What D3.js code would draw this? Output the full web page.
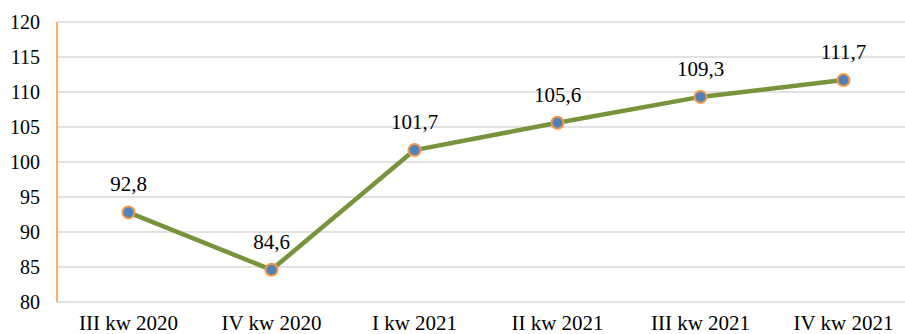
<!DOCTYPE html>
<html>
<head>
<meta charset="utf-8">
<script src="https://cdn.jsdelivr.net/npm/d3@7"></script>
<style>
  html, body { margin: 0; padding: 0; background: #fff; }
  svg { display: block; }
  svg text { font-family: "Liberation Serif" !important; fill: #000; }
</style>
</head>
<body>
<svg id="chart" width="905" height="334"></svg>
<script>
// Quarterly index values
const categories = ["III kw 2020", "IV kw 2020", "I kw 2021", "II kw 2021", "III kw 2021", "IV kw 2021"];
const values = [92.8, 84.6, 101.7, 105.6, 109.3, 111.7];
const yTicks = [80, 85, 90, 95, 100, 105, 110, 115, 120];

const svg = d3.select("#chart");
const plot = { left: 57, right: 915, top: 22, bottom: 302 };
const FONT = "Liberation Serif";

const x = d3.scaleBand().domain(categories).range([plot.left, plot.right]);
const y = d3.scaleLinear().domain([80, 120]).range([plot.bottom, plot.top]);
const fmt = v => d3.format(".1f")(v).replace(".", ",");

// Horizontal gridlines
svg.append("g").selectAll("line").data(yTicks).join("line")
  .attr("x1", plot.left).attr("x2", plot.right)
  .attr("y1", d => y(d)).attr("y2", d => y(d))
  .attr("stroke", "#d9d9d9").attr("stroke-width", 1.3);

// Y axis labels
const yAxis = svg.append("g").attr("transform", `translate(${plot.left},0)`)
  .call(d3.axisLeft(y).tickValues(yTicks).tickSize(0).tickPadding(17));
yAxis.attr("font-family", FONT).attr("font-size", 20);
yAxis.select(".domain").remove();
yAxis.selectAll("text").attr("fill", "#000");

// Left axis line
svg.append("line").attr("x1", plot.left).attr("x2", plot.left)
  .attr("y1", plot.top).attr("y2", plot.bottom)
  .attr("stroke", "#f79646").attr("stroke-width", 1.5);

// X axis labels
const xAxis = svg.append("g").attr("transform", `translate(0,${plot.bottom})`)
  .call(d3.axisBottom(x).tickSize(0).tickPadding(13));
xAxis.attr("font-family", FONT).attr("font-size", 21);
xAxis.select(".domain").remove();
xAxis.selectAll("text").attr("fill", "#000");

const cx = d => x(d.c) + x.bandwidth() / 2;
const data = categories.map((c, i) => ({ c, v: values[i] }));

// Series line
svg.append("path").datum(data)
  .attr("fill", "none").attr("stroke", "#77933c").attr("stroke-width", 4.5)
  .attr("stroke-linejoin", "round")
  .attr("d", d3.line().x(cx).y(d => y(d.v)));

// Markers
svg.append("g").selectAll("circle").data(data).join("circle")
  .attr("cx", cx).attr("cy", d => y(d.v)).attr("r", 6)
  .attr("fill", "#4f81bd").attr("stroke", "#f79646").attr("stroke-width", 2);

// Value labels
svg.append("g").attr("font-family", FONT).attr("font-size", 21)
  .selectAll("text").data(data).join("text")
  .attr("x", cx).attr("y", d => y(d.v) - 21)
  .attr("text-anchor", "middle")
  .text(d => fmt(d.v));
</script>
</body>
</html>
